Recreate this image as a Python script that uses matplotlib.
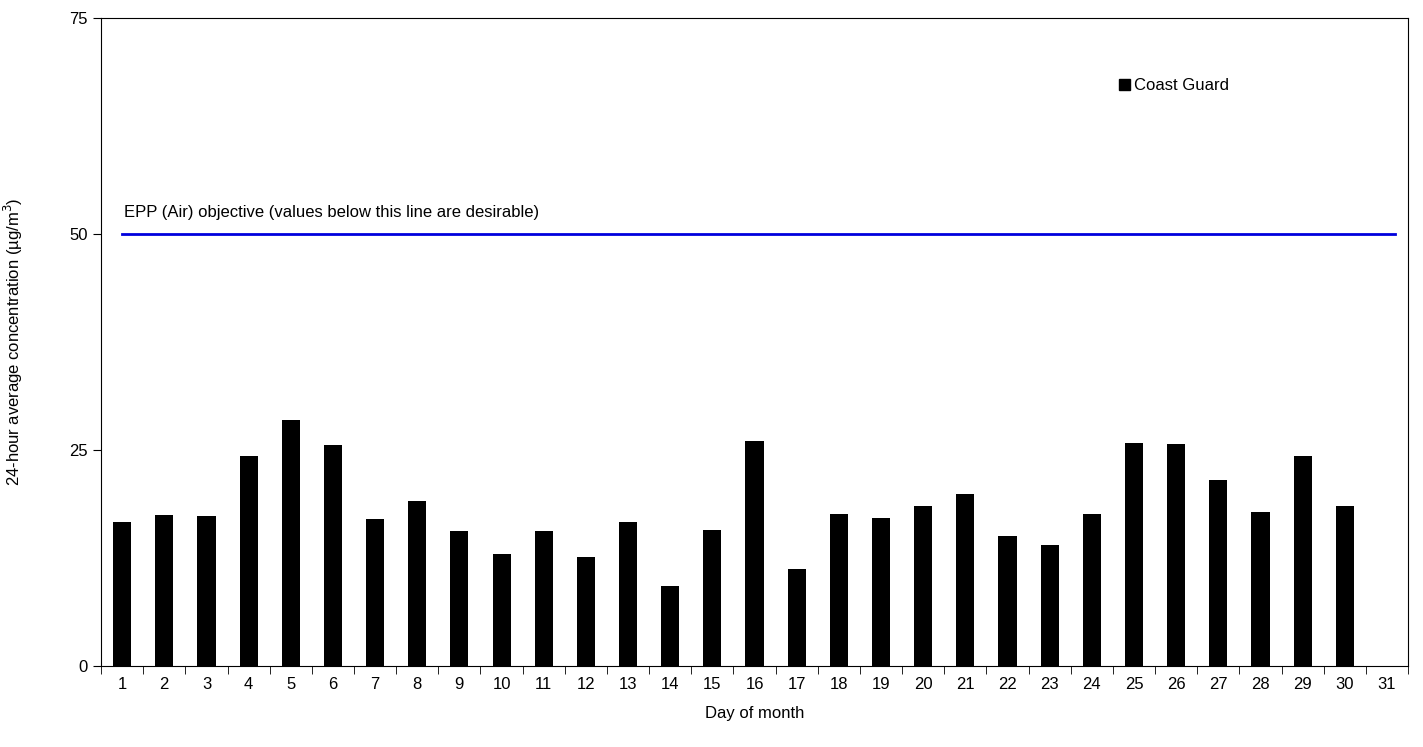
import matplotlib
matplotlib.use("Agg")
import matplotlib.pyplot as plt
import numpy as np
from matplotlib.patches import Patch

days = list(range(1, 32))
values = [16.7, 17.5, 17.4, 24.3, 28.5, 25.6, 17.0, 19.1, 15.7, 13.0, 15.7, 12.7,
          16.7, 9.3, 15.8, 26.1, 11.2, 17.6, 17.1, 18.6, 19.9, 15.1, 14.0, 17.6,
          25.8, 25.7, 21.6, 17.9, 24.3, 18.6, np.nan]
objective = 50
y_ticks = [0, 25, 50, 75]

plt.rcParams["font.family"] = ["Liberation Sans", "DejaVu Sans"]
fig = plt.figure(figsize=(14.23, 7.47), dpi=100)
ax = fig.add_axes([0.071, 0.108, 0.9185, 0.868])

ax.bar(days, values, width=0.43, color="black", zorder=3)
ax.plot([1, 31.2], [objective, objective], color="#0000dd", linewidth=2, zorder=2)
ax.text(1.05, objective + 1.6, "EPP (Air) objective (values below this line are desirable)",
        fontsize=12, va="bottom")

ax.set_xlim(0.5, 31.5)
ax.set_ylim(0, 75)
ax.set_yticks(y_ticks)
ax.set_xticks(days)
ax.set_xticks(np.arange(0.5, 32, 1), minor=True)
ax.tick_params(axis="x", which="major", length=0, labelsize=12, pad=8)
ax.tick_params(axis="x", which="minor", length=6, direction="out")
ax.tick_params(axis="y", length=6, direction="out", labelsize=12)
for s in ax.spines.values():
    s.set_linewidth(0.8)

ax.set_xlabel("Day of month", fontsize=12, labelpad=10)
ax.set_ylabel("24-hour average concentration (µg/m$^3$)", fontsize=12, labelpad=32)

ax.legend(handles=[Patch(color="black", label="Coast Guard")], loc="upper left",
          bbox_to_anchor=(0.767, 0.93), frameon=False, fontsize=12,
          handlelength=0.7, handleheight=0.7, handletextpad=0.2)

fig.savefig("out.png", dpi=100)
